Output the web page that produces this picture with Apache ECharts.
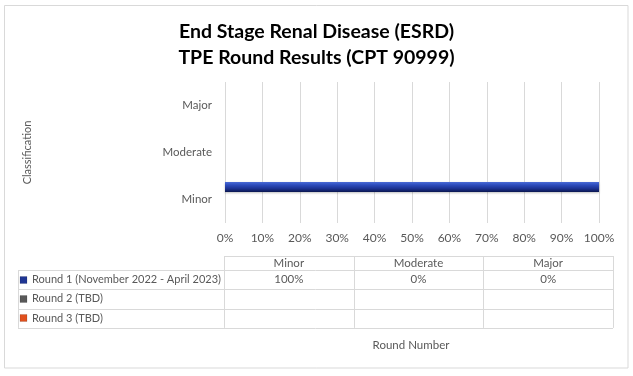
<!DOCTYPE html>
<html>
<head>
<meta charset="utf-8">
<title>ESRD TPE Round Results</title>
<script src="https://cdn.jsdelivr.net/npm/echarts@6/dist/echarts.min.js"></script>
<style>
    html, body { margin: 0; padding: 0; background: #fff; }
    #chart { width: 633px; height: 376px; }
</style>
</head>
<body>
<div id="chart"></div>
<script>
// chart data
var categories = ['Minor', 'Moderate', 'Major'];
var roundNames = ['Round 1 (November 2022 - April 2023)', 'Round 2 (TBD)', 'Round 3 (TBD)'];
var round1 = [1, 0, 0];
var round2 = [null, null, null];
var round3 = [null, null, null];
var xTicks = [0, 0.1, 0.2, 0.3, 0.4, 0.5, 0.6, 0.7, 0.8, 0.9, 1];

var roundValues = [round1, round2, round3];
var keyColors = ['#1f3694', '#595959', '#e0501e'];
var fontFamily = 'Lato, "Open Sans", sans-serif';
var gridColor = '#d9d9d9';
var textGray = '#595959';

function pct(v) {
    if (v === null || v === undefined) return '';
    return Math.round(v * 100) + '%';
}

// data table under the plot (Excel style)
function buildTable() {
    var els = [];
    var left = 18, firstCol = 224, right = 613;
    var colW = (right - firstCol) / categories.length;
    var headTop = 256, rowTop = 270, rowH = 19.3;
    var bottom = rowTop + rowH * roundNames.length;
    var line = function (x1, y1, x2, y2) {
        els.push({
            type: 'line', silent: true,
            shape: { x1: x1, y1: y1, x2: x2, y2: y2 },
            style: { stroke: gridColor, lineWidth: 1 }
        });
    };
    line(firstCol, headTop + 0.5, right, headTop + 0.5);
    for (var r = 0; r <= roundNames.length; r++) {
        var y = Math.round(rowTop + r * rowH) + 0.5;
        line(left, y, right, y);
    }
    line(left + 0.5, rowTop, left + 0.5, bottom);
    for (var c = 0; c <= categories.length; c++) {
        var x = Math.round(firstCol + c * colW) + 0.5;
        line(x, headTop, x, bottom);
    }
    categories.forEach(function (cat, i) {
        els.push({
            type: 'text', silent: true,
            x: firstCol + colW * (i + 0.5), y: (headTop + rowTop) / 2,
            style: { text: cat, fill: textGray, font: '11.5px ' + fontFamily, align: 'center', verticalAlign: 'middle' }
        });
    });
    roundNames.forEach(function (name, r) {
        var cy = rowTop + rowH * (r + 0.5);
        els.push({
            type: 'rect', silent: true,
            shape: { x: 20, y: Math.round(cy) - 3.5, width: 7, height: 7 },
            style: { fill: keyColors[r], stroke: 'rgba(0,0,0,0.25)', lineWidth: 0.5 }
        });
        els.push({
            type: 'text', silent: true,
            x: 32, y: cy,
            style: { text: name, fill: textGray, font: '11px ' + fontFamily, verticalAlign: 'middle' }
        });
        roundValues[r].forEach(function (v, i) {
            els.push({
                type: 'text', silent: true,
                x: firstCol + colW * (i + 0.5), y: cy,
                style: { text: pct(v), fill: textGray, font: '11.5px ' + fontFamily, align: 'center', verticalAlign: 'middle' }
            });
        });
    });
    els.push({
        type: 'text', silent: true,
        x: 411, y: 345,
        style: { text: 'Round Number', fill: textGray, font: '11.5px ' + fontFamily, align: 'center', verticalAlign: 'middle' }
    });
    els.push({
        type: 'rect', silent: true, z: -10,
        shape: { x: 4.5, y: 5.5, width: 623.5, height: 362.5 },
        style: { fill: 'none', stroke: gridColor, lineWidth: 1 }
    });
    return els;
}

var barFill = new echarts.graphic.LinearGradient(0, 0, 0, 1, [
    { offset: 0, color: '#4a6bd6' },
    { offset: 0.3, color: '#2d4cbc' },
    { offset: 0.65, color: '#1d3393' },
    { offset: 1, color: '#0b1750' }
]);

var chart = echarts.init(document.getElementById('chart'), null, { renderer: 'canvas' });

var option = {
    animation: false,
    backgroundColor: '#fff',
    textStyle: { fontFamily: fontFamily },
    title: {
        text: 'End Stage Renal Disease (ESRD)\nTPE Round Results (CPT 90999)',
        left: 'center',
        top: 14,
        textStyle: { fontFamily: fontFamily, fontSize: 19.5, fontWeight: 'bold', color: '#000', lineHeight: 26 }
    },
    grid: { left: 225, right: 34, top: 82, bottom: 153 },
    xAxis: {
        type: 'value',
        min: 0,
        max: 1,
        interval: 0.1,
        axisLine: { show: false },
        axisTick: { show: false },
        splitLine: { show: true, lineStyle: { color: gridColor, width: 1 } },
        axisLabel: {
            color: textGray, fontSize: 12, margin: 9,
            formatter: function (v) {
                return xTicks.indexOf(Math.round(v * 10) / 10) >= 0 ? pct(v) : '';
            }
        }
    },
    yAxis: {
        type: 'category',
        data: categories,
        name: 'Classification',
        nameLocation: 'middle',
        nameRotate: 90,
        nameGap: 192,
        nameTextStyle: { color: textGray, fontSize: 11 },
        axisLine: { show: false },
        axisTick: { show: false },
        axisLabel: { color: textGray, fontSize: 11.5, margin: 13 }
    },
    series: roundNames.map(function (name, r) {
        return {
            type: 'bar',
            name: name,
            data: roundValues[r],
            barWidth: 10,
            barGap: '25%',
            itemStyle: {
                color: r === 0 ? barFill : keyColors[r],
                shadowColor: 'rgba(0,0,0,0.25)',
                shadowBlur: 2,
                shadowOffsetY: 1
            }
        };
    }),
    graphic: buildTable()
};

chart.setOption(option);
</script>
</body>
</html>
